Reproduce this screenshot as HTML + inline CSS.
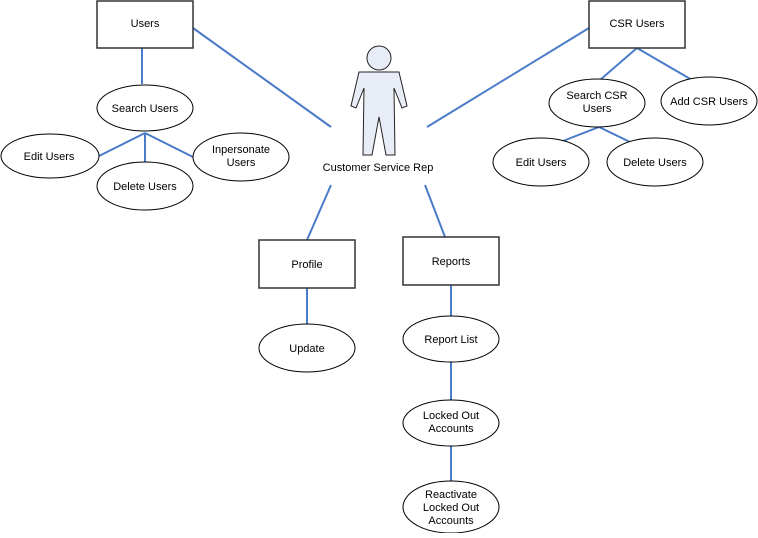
<!DOCTYPE html>
<html><head><meta charset="utf-8"><style>
html,body{margin:0;padding:0;background:#fff;}
svg text{font-family:"Liberation Sans",sans-serif;font-size:11px;fill:#000;text-anchor:middle;}
</style></head><body>
<svg width="758" height="533" viewBox="0 0 758 533" xmlns="http://www.w3.org/2000/svg">
<g stroke="#4a7bc8" stroke-width="2" fill="none">
<line x1="142" y1="48" x2="142" y2="84"/>
<line x1="145" y1="133" x2="97" y2="157"/>
<line x1="145" y1="133" x2="145" y2="162"/>
<line x1="145" y1="133" x2="193" y2="157"/>
<line x1="193" y1="28" x2="331" y2="127"/>
<line x1="589" y1="28" x2="427" y2="127"/>
<line x1="637" y1="48" x2="600" y2="80"/>
<line x1="637" y1="48" x2="692" y2="80"/>
<line x1="599" y1="127" x2="563" y2="141"/>
<line x1="599" y1="127" x2="630" y2="142"/>
<line x1="331" y1="185" x2="307" y2="240"/>
<line x1="425" y1="185" x2="445" y2="237"/>
<line x1="307" y1="288" x2="307" y2="324"/>
<line x1="451" y1="285" x2="451" y2="316"/>
<line x1="451" y1="362" x2="451" y2="400"/>
<line x1="451" y1="446" x2="451" y2="481"/>
</g>
<g stroke="#333" stroke-width="1.5" fill="#fff">
<rect x="97" y="1" width="96" height="47"/>
<rect x="589" y="1" width="96" height="47"/>
<rect x="259" y="240" width="96" height="48"/>
<rect x="403" y="237" width="96" height="48"/>
</g>
<g stroke="#000" stroke-width="1" fill="#fff">
<ellipse cx="145" cy="108" rx="48" ry="23"/>
<ellipse cx="50" cy="156" rx="49" ry="22"/>
<ellipse cx="145" cy="186" rx="48" ry="24"/>
<ellipse cx="241" cy="157" rx="48" ry="24"/>
<ellipse cx="597" cy="103" rx="48" ry="24"/>
<ellipse cx="709" cy="101" rx="48" ry="24"/>
<ellipse cx="541" cy="162" rx="48" ry="24"/>
<ellipse cx="655" cy="162" rx="48" ry="24"/>
<ellipse cx="307" cy="348" rx="48" ry="24"/>
<ellipse cx="451" cy="339" rx="48" ry="23"/>
<ellipse cx="451" cy="423" rx="48" ry="23"/>
<ellipse cx="451" cy="507" rx="48" ry="26"/>
</g>
<g stroke="#222" stroke-width="1" fill="#e8ecf6">
<circle cx="379" cy="58" r="12"/>
<polygon points="359,72 399,72 407,106 402,108 394,88 395,155 386,155 379,117 372,155 363,155 364,88 356,108 351,106"/>
</g>
<text x="145" y="27">Users</text>
<text x="637" y="27">CSR Users</text>
<text x="307" y="268">Profile</text>
<text x="451" y="265">Reports</text>
<text x="145" y="112">Search Users</text>
<text x="49" y="160">Edit Users</text>
<text x="145" y="190">Delete Users</text>
<text x="241" y="153">Inpersonate</text>
<text x="241" y="166">Users</text>
<text x="597" y="99">Search CSR</text>
<text x="597" y="112">Users</text>
<text x="709" y="105">Add CSR Users</text>
<text x="541" y="166">Edit Users</text>
<text x="655" y="166">Delete Users</text>
<text x="378" y="171">Customer Service Rep</text>
<text x="307" y="352">Update</text>
<text x="451" y="343">Report List</text>
<text x="451" y="419">Locked Out</text>
<text x="451" y="432">Accounts</text>
<text x="451" y="498">Reactivate</text>
<text x="451" y="511">Locked Out</text>
<text x="451" y="524">Accounts</text>
</svg>
</body></html>
